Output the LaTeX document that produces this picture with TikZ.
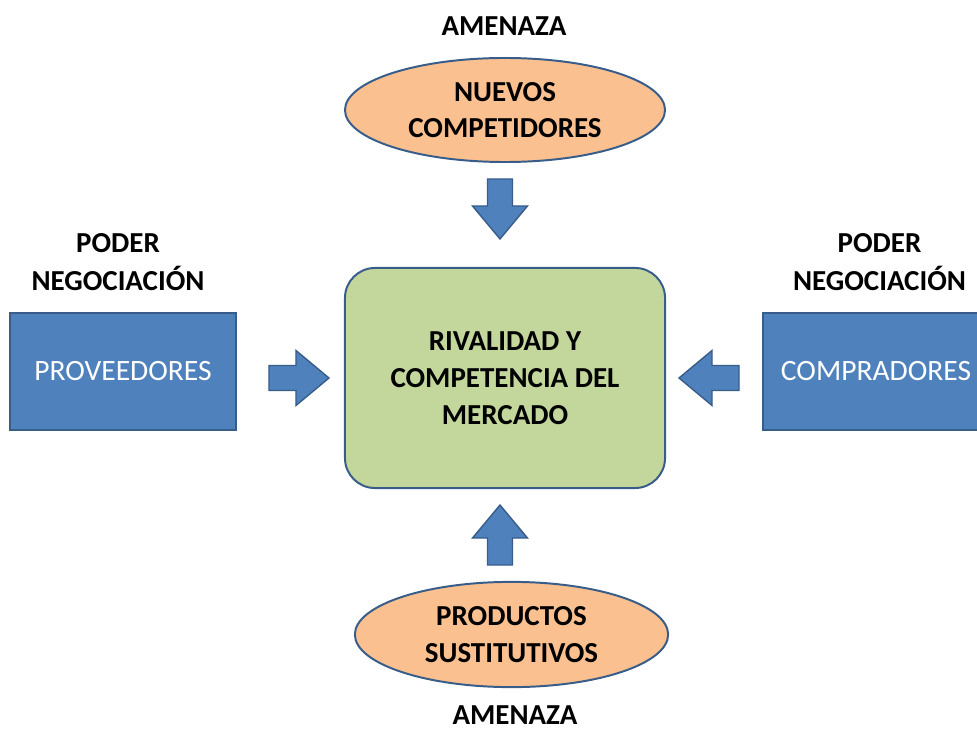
\documentclass[tikz,border=0pt]{standalone}
\usepackage{fontspec}
\setmainfont{Carlito}
\usetikzlibrary{shapes.geometric,calc}
\definecolor{edgeblue}{RGB}{56,93,138}
\definecolor{fillblue}{RGB}{79,129,189}
\definecolor{forceorange}{RGB}{250,192,143}
\definecolor{rivalgreen}{RGB}{195,214,155}

\begin{document}
\begin{tikzpicture}[
    x=0.025cm, y=0.025cm,
    force/.style={ellipse, draw=edgeblue, fill=forceorange, line width=1.4pt, inner sep=0pt, align=center, font=\fontsize{20.6}{26}\selectfont\bfseries},
    rivalbox/.style={draw=edgeblue, fill=rivalgreen, rounded corners=0.75cm, line width=1.4pt, minimum width=8cm, minimum height=5.5cm, align=center, font=\fontsize{20.6}{26.5}\selectfont\bfseries},
    sidebox/.style={draw=edgeblue, fill=fillblue, line width=1.4pt, minimum width=5.65cm, minimum height=2.925cm, text=white, font=\fontsize{21}{26}\selectfont},
    heading/.style={align=center, font=\fontsize{20.6}{27}\selectfont\bfseries},
    blockarrow/.pic={
      \filldraw[draw=edgeblue, fill=fillblue, line width=1pt]
        (-30,-12.5) -- (-3,-12.5) -- (-3,-27.5) -- (30,0) -- (-3,27.5) -- (-3,12.5) -- (-30,12.5) -- cycle;
    },
]
\useasboundingbox (0,0) rectangle (977,-728);

% Centre
\node[rivalbox] (rival) at (505,-378) {RIVALIDAD Y\\COMPETENCIA DEL\\MERCADO};

% Threats
\node[force, minimum width=8cm, minimum height=2.6cm] (nuevos) at (505,-110) {NUEVOS\\COMPETIDORES};
\node[force, minimum width=7.83cm, minimum height=2.63cm] (sust) at (511.5,-634.5) {PRODUCTOS\\SUSTITUTIVOS};
\node[heading] (amtop) at (504,-26) {AMENAZA};
\node[heading, anchor=base, inner sep=0pt, outer sep=0pt] (ambot) at (515,-724) {AMENAZA};

% Bargaining power
\node[sidebox] (prov) at (123,-371.5) {PROVEEDORES};
\node[sidebox] (comp) at (876,-371.5) {COMPRADORES};
\node[heading] (podizq) at (118,-262) {PODER\\NEGOCIACIÓN};
\node[heading] (podder) at (879.5,-262) {PODER\\NEGOCIACIÓN};

% Block arrows
\pic[rotate=-90] at ($(rival.north)+(-5,58)$) {blockarrow};
\pic[rotate=90]  at ($(rival.south)+(-5,-46)$) {blockarrow};
\pic             at ($(rival.west)+(-45,0)$) {blockarrow};
\pic[rotate=180] at ($(rival.east)+(43,0)$) {blockarrow};

\end{tikzpicture}
\end{document}
